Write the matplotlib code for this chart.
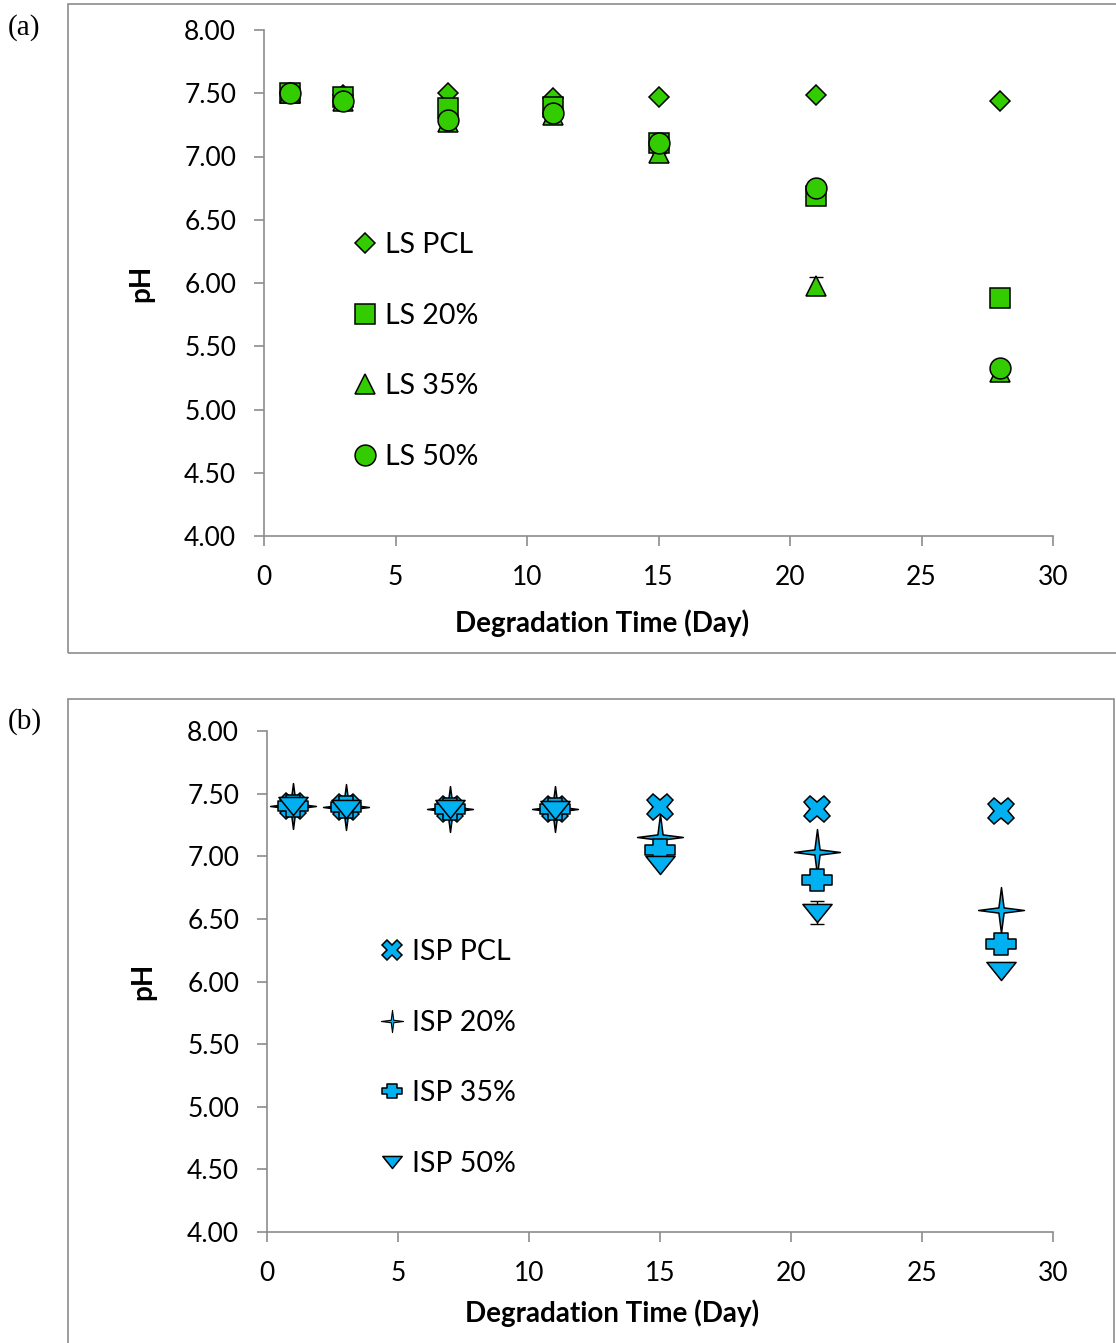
import numpy as np
import matplotlib.pyplot as plt
from matplotlib.path import Path
from matplotlib.patches import Rectangle
from matplotlib.ticker import FormatStrFormatter, MultipleLocator

# degradation sampling days
days = [1, 3, 7, 11, 15, 21, 28]

# (a) LS scaffolds, pH
ls_pcl = [7.50, 7.49, 7.50, 7.46, 7.47, 7.49, 7.44]
ls_20 = [7.50, 7.47, 7.38, 7.39, 7.11, 6.69, 5.88]
ls_35 = [7.50, 7.44, 7.27, 7.33, 7.03, 5.98, 5.30]
ls_50 = [7.50, 7.44, 7.29, 7.34, 7.11, 6.75, 5.33]
ls_35_err = [0, 0, 0.02, 0, 0, 0.07, 0]

# (b) ISP scaffolds, pH
isp_pcl = [7.40, 7.39, 7.38, 7.38, 7.39, 7.38, 7.36]
isp_20 = [7.40, 7.39, 7.38, 7.38, 7.15, 7.03, 6.57]
isp_35 = [7.40, 7.39, 7.38, 7.38, 7.05, 6.81, 6.30]
isp_50 = [7.40, 7.38, 7.38, 7.37, 6.93, 6.55, 6.08]
isp_50_err = [0, 0, 0, 0, 0, 0.09, 0]

GREEN = '#33CC00'
BLUE = '#00B0F0'
FONT = 'Lato'

# excel-like marker shapes
r = 0.16
star_pts = []
for k in range(4):
    a = np.pi / 2 * k
    star_pts.append((np.cos(a), np.sin(a)))
    star_pts.append((r * np.cos(a + np.pi / 4), r * np.sin(a + np.pi / 4)))
star_pts.append(star_pts[0])
STAR = Path(star_pts, closed=True)

PLUS = Path([(-1, -0.36), (-0.5, -0.36), (-0.5, -0.74), (0.5, -0.74), (0.5, -0.36),
             (1, -0.36), (1, 0.36), (0.5, 0.36), (0.5, 0.74), (-0.5, 0.74),
             (-0.5, 0.36), (-1, 0.36), (-1, -0.36)], closed=True)

TRI_DOWN = Path([(-1, 0.62), (1, 0.62), (0, -0.62), (-1, 0.62)], closed=True)

fig = plt.figure(figsize=(11.16, 13.43), dpi=100)
W, H = 1116.0, 1343.0

# chart area borders
fig.patches.append(Rectangle((68 / W, 1 - 653 / H), 1.2, 649 / H, transform=fig.transFigure,
                             fill=False, edgecolor='#8c8c8c', lw=1.2))
fig.patches.append(Rectangle((68 / W, -0.1), (1114 - 68) / W, 1 - 699 / H + 0.1,
                             transform=fig.transFigure, fill=False, edgecolor='#8c8c8c', lw=1.2))

ax1 = fig.add_axes([264 / W, 1 - 536 / H, 789 / W, 506 / H])
ax2 = fig.add_axes([267 / W, 1 - 1232 / H, 786 / W, 501 / H])


def style_axis(ax, xlab_pos, ylab_pos):
    ax.set_xlim(0, 30)
    ax.set_ylim(4, 8)
    ax.xaxis.set_major_locator(MultipleLocator(5))
    ax.yaxis.set_major_locator(MultipleLocator(0.5))
    ax.yaxis.set_major_formatter(FormatStrFormatter('%.2f'))
    for s in ['top', 'right']:
        ax.spines[s].set_visible(False)
    for s in ['left', 'bottom']:
        ax.spines[s].set_color('#8c8c8c')
        ax.spines[s].set_linewidth(1.2)
    ax.tick_params(direction='out', length=7, width=1.2, color='#8c8c8c',
                   labelsize=19, labelcolor='black')
    ax.tick_params(axis='y', pad=13)
    ax.tick_params(axis='x', pad=14)
    for t in ax.get_xticklabels() + ax.get_yticklabels():
        t.set_fontfamily(FONT)
    ax.set_xlabel('Degradation Time (Day)', fontfamily=FONT, fontweight='bold', fontsize=20)
    ax.set_ylabel('pH', fontfamily=FONT, fontweight='bold', fontsize=20)
    ax.xaxis.set_label_coords(*xlab_pos)
    ax.yaxis.set_label_coords(*ylab_pos)
    ax.xaxis.label.set_va('center')
    ax.yaxis.label.set_va('center')


style_axis(ax1, (0.428, -0.172), (-0.156, 0.5))
style_axis(ax2, (0.439, -0.162), (-0.158, 0.5))

mk = dict(linestyle='none', markeredgecolor='black', markeredgewidth=1.1)
eb = dict(fmt='none', ecolor='black', elinewidth=1, capsize=5, capthick=1)

# panel (a)
ax1.plot(days, ls_pcl, marker='D', markersize=10, color=GREEN, label='LS PCL', **mk)
ax1.plot(days, ls_20, marker='s', markersize=15, color=GREEN, label='LS 20%', **mk)
ax1.errorbar(days, ls_35, yerr=ls_35_err, **eb)
ax1.plot(days, ls_35, marker='^', markersize=15, color=GREEN, label='LS 35%', **mk)
ax1.plot(days, ls_50, marker='o', markersize=15, color=GREEN, label='LS 50%', **mk)

# panel (b)
ax2.plot(days, isp_pcl, marker='X', markersize=19, color=BLUE, label='ISP PCL', **mk)
ax2.plot(days, isp_20, marker=STAR, markersize=33, color=BLUE, label='ISP 20%', **mk)
ax2.plot(days, isp_35, marker=PLUS, markersize=21, color=BLUE, label='ISP 35%', **mk)
ax2.errorbar(days, isp_50, yerr=isp_50_err, **eb)
ax2.plot(days, isp_50, marker=TRI_DOWN, markersize=21, color=BLUE, label='ISP 50%', **mk)

leg_kw = dict(loc='upper left', frameon=False, borderpad=0, borderaxespad=0,
              handlelength=0.8, handletextpad=0.3, labelspacing=1.56,
              prop={'family': FONT, 'size': 20.5})

leg1 = ax1.legend(bbox_to_anchor=(0.114, 0.6), **leg_kw)
for h, s in zip(leg1.legend_handles, [10, 15, 15, 15]):
    h.set_markersize(s)

leg2 = ax2.legend(bbox_to_anchor=(0.145, 0.584), **leg_kw)
for h, s in zip(leg2.legend_handles, [15, 16, 14, 14]):
    h.set_markersize(s)
leg2.legend_handles[1].set_markeredgewidth(0.8)

fig.text(8 / W, 1 - 28 / H, '(a)', fontfamily='Liberation Serif', fontsize=21,
         ha='left', va='center')
fig.text(8 / W, 1 - 722 / H, '(b)', fontfamily='Liberation Serif', fontsize=21,
         ha='left', va='center')

fig.savefig('out.png', dpi=100)
